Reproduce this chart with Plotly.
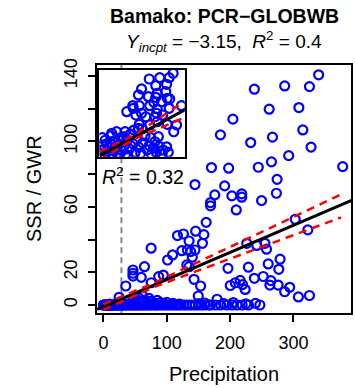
import plotly.graph_objects as go

# ---------------- data (main panel) ----------------
hi_x = [339.8, 238.3, 286.2, 325.3, 261.7, 308.6, 204.4, 184.7, 232.5, 266.9, 314.8, 327.8,
        292.5, 170.6, 197.7, 244.5, 265.3, 377.8, 144.5, 191.4, 274.2, 273.1, 175.8, 169.1,
        169.1, 202.8, 218.4, 218.4, 249.7, 209.7, 162.2, 116.9, 126.3, 135.2, 145.6, 158.6,
        156.3, 75.3, 123.8, 132.5, 137.8, 144.5, 140.3, 109.1, 101.3, 131.6, 135.2, 46.6,
        46.6, 46.6, 64.8, 59.7, 75.3, 87.2, 94.5, 143.0, 153.4, 149.7, 35.2, 24.7, 302.8,
        322.7, 226.3, 242.2, 255.0, 257.5, 196.6, 228.9, 260.2, 278.9, 276.9, 238.3, 252.3,
        262.8, 264.4, 200.3, 208.1, 215.9, 219.5, 223.8, 275.8, 294.1, 286.2, 307.8, 325.3,
        179.4]
hi_y = [140.7, 131.9, 133.9, 133.5, 119.7, 120.7, 113.6, 104.0, 99.3, 102.6, 107.0, 96.5,
        91.3, 84.0, 83.6, 84.2, 87.5, 84.6, 73.6, 72.8, 76.8, 68.3, 67.3, 62.6,
        60.6, 66.7, 67.9, 65.9, 63.8, 58.1, 50.5, 42.4, 43.4, 39.1, 45.1, 43.0,
        37.7, 34.7, 33.2, 33.6, 32.6, 33.6, 29.2, 30.6, 27.5, 24.5, 23.4, 21.4,
        19.4, 17.7, 23.4, 16.9, 13.6, 17.3, 18.3, 15.7, 11.6, 5.5, 11.6, 4.7, 52.4,
        45.9, 37.7, 36.4, 37.7, 34.1, 22.4, 23.1, 25.1, 28.0, 21.8, 16.3, 17.4,
        12.2, 14.9, 11.9, 13.6, 15.0, 12.5, 9.5, 12.2, 10.8, 8.1, 4.9, 5.8,
        3.5]

zero_x = [0, 0.5, 1, 2, 3, 4, 5, 6, 7, 8, 9, 10, 11, 12, 14, 15, 17, 18, 20, 22, 23, 25,
          27, 29, 31, 33, 35, 37, 40, 42, 45, 47, 50, 53, 55, 58, 61, 64, 67, 70, 73, 76,
          80, 83, 86, 90, 94, 98, 102, 106, 110, 114, 118, 122, 127, 131, 136, 140, 145,
          150, 155, 160, 166, 169, 177, 185, 195, 203, 211, 219, 229, 247]
zero_y = [0] * len(zero_x)

low_x = [44, 48, 52, 55, 58, 62, 65, 68, 72, 75, 80, 85, 90, 95, 100, 110, 120, 30, 20,
         10, 38, 150, 160, 190, 205, 225, 240]
low_y = [1.5, 3.0, 2.0, 4.5, 2.5, 5.5, 3.0, 1.8, 4.0, 2.2, 1.2, 2.8, 1.5, 0.8, 1.6, 1.0,
         0.6, 1.0, 0.8, 0.5, 2.2, 0.8, 1.2, 0.8, 1.5, 0.7, 1.0]

fit_x = [-10, 393]
fit_y = [-2.7, 64.2]
band_up_x = [0, 80, 380]
band_up_y = [0.5, 13.5, 68.5]
band_lo_x = [0, 80, 375]
band_lo_y = [-3.0, 11.0, 53.5]
thresh_x = 28.4

y_major = [0, 20, 60, 100, 140]
y_major_text = ["0", "20", "60", "100", "140"]
y_minor = [40, 80, 120]
x_major = [0, 100, 200, 300]
x_major_text = ["0", "100", "200", "300"]

# ---------------- data (inset) ----------------
in_x = [25.9, 24.5, 17.5, 21.2, 19.8, 23.6, 14.8, 20.3, 23.3, 13.7, 17.2, 19.8, 23.8, 24.7,
        19.1, 21.8, 17.7, 20.3, 28.8, 24.5, 14.0, 11.7, 11.9, 9.6, 12.8, 14.8, 16.3, 19.5,
        20.1, 22.2, 17.7, 20.3, 23.8, 14.0, 13.7, 12.1, 10.7, 8.4, 4.3, 6.7, 3.7, 1.4,
        27.1, 26.1, 20.7, 19.5, 23.6, 22.4, 24.2,
        0.5, 1.2, 2.0, 2.5, 3.0, 3.8, 4.5, 5.0, 5.5, 6.2, 6.8, 7.5, 8.0, 8.6, 9.2, 9.8,
        10.5, 11.0, 11.8, 12.5, 13.1, 13.8, 14.5, 15.2, 16.0, 16.8, 17.5, 18.3, 19.0,
        20.0, 21.0, 22.0, 6.0, 4.0, 9.0, 15.0, 18.0, 2.0, 1.0, 3.2, 7.0, 10.0]
in_y = [9.62, 9.11, 8.96, 9.11, 8.19, 8.35, 7.81, 7.31, 7.50, 7.12, 6.92, 6.85, 6.74, 6.66,
        6.27, 6.34, 5.88, 5.50, 5.88, 5.58, 5.88, 5.88, 5.58, 5.19, 4.81, 5.01, 4.61, 4.61,
        5.01, 4.81, 3.66, 4.04, 3.74, 3.74, 3.28, 3.08, 2.58, 2.31, 2.70, 1.93, 1.55, 1.35,
        3.66, 2.88, 2.31, 1.73, 1.15, 0.77, 0.51,
        0.3, 0.8, 0.2, 1.5, 0.6, 1.1, 0.3, 1.8, 0.9, 0.4, 1.4, 2.2, 0.7, 1.2, 0.3, 1.9,
        0.9, 2.6, 1.5, 0.5, 2.0, 1.1, 0.4, 1.6, 2.4, 0.8, 1.3, 0.3, 1.0,
        0.5, 1.2, 0.3, 2.9, 2.4, 2.9, 3.2, 2.2, 1.9, 2.2, 0.1, 0.2, 0.1]
in_fit_x = [0, 30]
in_fit_y = [0.1, 5.4]
in_up_x = [0, 12, 29]
in_up_y = [0.6, 2.45, 6.2]
in_lo_x = [0, 12, 29]
in_lo_y = [-0.4, 2.0, 4.4]

FONT = "Liberation Sans, Arial, sans-serif"
BLUE = "#0000FF"

fig = go.Figure()

def pts(x, y, xa="x", ya="y"):
    return go.Scatter(x=x, y=y, mode="markers", xaxis=xa, yaxis=ya, showlegend=False,
                      hoverinfo="skip",
                      marker=dict(symbol="circle-open", size=9, color=BLUE,
                                  line=dict(width=2.2, color=BLUE)))

# main panel
fig.add_trace(go.Scatter(x=[thresh_x, thresh_x, None, thresh_x, thresh_x],
                         y=[-5, 90.7, None, 143.8, 147], mode="lines", showlegend=False,
                         line=dict(color="#888888", width=2, dash="6px,4px")))
fig.add_trace(pts(zero_x, zero_y))
fig.add_trace(pts(low_x, low_y))
fig.add_trace(pts(hi_x, hi_y))
fig.add_trace(go.Scatter(x=fit_x, y=fit_y, mode="lines", showlegend=False,
                         line=dict(color="black", width=3)))
fig.add_trace(go.Scatter(x=band_up_x, y=band_up_y, mode="lines", showlegend=False,
                         line=dict(color="#FF0000", width=2.5, dash="8px,6px")))
fig.add_trace(go.Scatter(x=band_lo_x, y=band_lo_y, mode="lines", showlegend=False,
                         line=dict(color="#FF0000", width=2.5, dash="8px,6px")))

# inset
fig.add_trace(pts(in_x, in_y, "x2", "y2"))
fig.add_trace(go.Scatter(x=in_fit_x, y=in_fit_y, mode="lines", xaxis="x2", yaxis="y2",
                         showlegend=False, line=dict(color="black", width=3)))
fig.add_trace(go.Scatter(x=in_up_x, y=in_up_y, mode="lines", xaxis="x2", yaxis="y2",
                         showlegend=False, line=dict(color="#FF0000", width=2.5, dash="8px,6px")))
fig.add_trace(go.Scatter(x=in_lo_x, y=in_lo_y, mode="lines", xaxis="x2", yaxis="y2",
                         showlegend=False, line=dict(color="#FF0000", width=2.5, dash="8px,6px")))

fig.update_layout(
    width=355, height=388,
    margin=dict(l=97, r=2, t=65, b=75),
    paper_bgcolor="white", plot_bgcolor="white",
    font=dict(family=FONT, size=18, color="black"),
    xaxis=dict(range=[-10.2, 390.9], domain=[0, 1], showgrid=False, zeroline=False,
               showline=True, linecolor="black", linewidth=2, mirror=True,
               ticks="outside", ticklen=7, tickwidth=2, tickcolor="black",
               tickmode="array", tickvals=x_major, ticktext=x_major_text,
               ticklabelstandoff=5, tickfont=dict(size=18)),
    yaxis=dict(range=[-4.9, 146.7], domain=[0, 1], showgrid=False, zeroline=False,
               showline=True, linecolor="black", linewidth=2, mirror=True,
               ticks="outside", ticklen=7, tickwidth=2, tickcolor="black",
               tickmode="array", tickvals=y_major, ticktext=y_major_text, tickangle=-90,
               ticklabelstandoff=4, tickfont=dict(size=18),
               minor=dict(tickmode="array", tickvals=y_minor, ticks="outside", ticklen=7,
                          tickwidth=2, tickcolor="black", showgrid=False)),
    xaxis2=dict(range=[0, 30], domain=[0.0098, 0.3457], anchor="y2", showgrid=False,
                zeroline=False, showline=True, linecolor="black", linewidth=2, mirror=True,
                showticklabels=False, ticks=""),
    yaxis2=dict(range=[0, 10], domain=[0.630, 0.98], anchor="x2", showgrid=False,
                zeroline=False, showline=True, linecolor="black", linewidth=2, mirror=True,
                showticklabels=False, ticks=""),
    shapes=[dict(type="rect", xref="x2 domain", yref="y2 domain", x0=0, x1=1, y0=0, y1=1,
                 fillcolor="#F0F0F0", line=dict(width=0), layer="below")],
    annotations=[
        dict(text="<b>Bamako: PCR\u2212GLOBWB</b>", xref="paper", yref="paper", x=0.5,
             y=1.197, xanchor="center", yanchor="middle", showarrow=False,
             font=dict(size=19.5)),
        dict(text="<i>Y</i><sub><i>incpt</i></sub> = \u22123.15,  <i>R</i><sup>2</sup> = 0.4",
             xref="paper", yref="paper", x=0.5, y=1.095, xanchor="center",
             yanchor="middle", showarrow=False, font=dict(size=19)),
        dict(text="Precipitation", xref="paper", yref="paper", x=0.5, y=-0.246,
             xanchor="center", yanchor="middle", showarrow=False, font=dict(size=20)),
        dict(text="SSR / GWR", xref="paper", yref="paper", x=-0.25, y=0.502,
             xanchor="center", yanchor="middle", textangle=-90, showarrow=False,
             font=dict(size=20)),
        dict(text="<i>R</i><sup>2</sup> = 0.32", xref="paper", yref="paper", x=0.013,
             y=0.552, xanchor="left", yanchor="middle", showarrow=False,
             font=dict(size=19.5)),
    ],
)

fig.write_html("out.html", config={"displayModeBar": False},
               post_script="document.body.style.margin='0px';")
